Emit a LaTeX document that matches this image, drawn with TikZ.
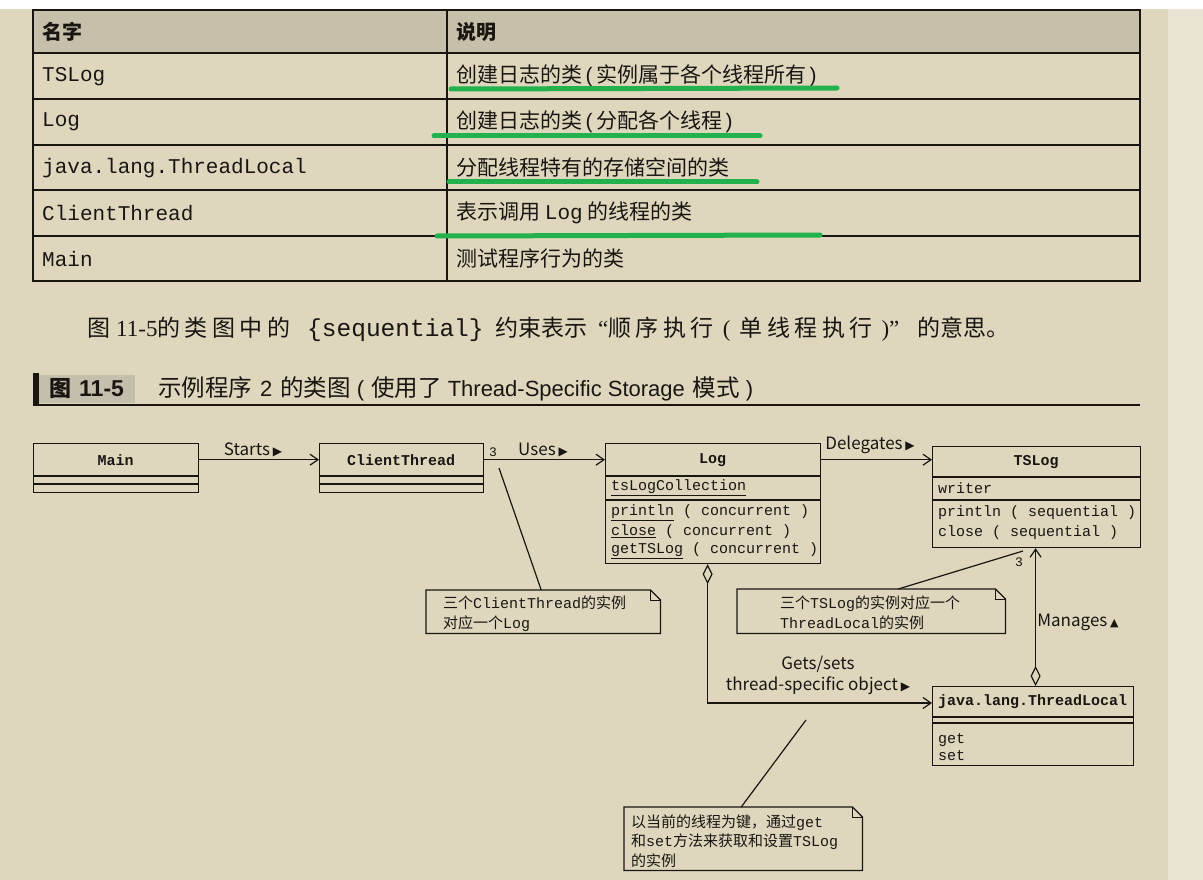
\documentclass[tikz,border=0pt]{standalone}
\usepackage{fontspec}
\usetikzlibrary{arrows.meta,calc}
\newfontfamily\cjk{Noto Sans CJK SC}
\newfontfamily\mono{Liberation Mono}
\newfontfamily\serifL{Liberation Serif}
\newfontfamily\sansL{Liberation Sans}
\newfontfamily\sym{DejaVu Sans}
\definecolor{pagebg}{RGB}{222,215,190}
\definecolor{edgebg}{RGB}{233,228,212}
\definecolor{headbg}{RGB}{198,191,170}
\definecolor{capbg}{RGB}{196,190,172}
\definecolor{marker}{RGB}{34,177,76}
\definecolor{ink}{RGB}{25,22,18}
\newcommand{\rtri}{\,{\sym\fontsize{12}{12}\selectfont ▶}}
\newcommand{\utri}{\,{\sym\fontsize{11}{11}\selectfont ▲}}
\newcommand{\gp}{\hspace{4.5pt}}
\begin{document}
\begin{tikzpicture}[x=1pt,y=-1pt,
  tabline/.style={draw=ink,line width=1.8pt},
  tabhead/.style={font=\cjk\bfseries\fontsize{20}{24}\selectfont,anchor=west,inner sep=0,text=ink},
  tabmono/.style={font=\mono\fontsize{21}{24}\selectfont,anchor=west,inner sep=0,text=ink},
  tabcjk/.style={font=\cjk\fontsize{21}{24}\selectfont,anchor=west,inner sep=0,text=ink},
  marked/.style={draw=marker,line width=5pt,line cap=round},
  para/.style={font=\cjk\fontsize{23}{26}\selectfont,anchor=base west,inner sep=0,text=ink},
  clsbox/.style={draw=ink,line width=1.2pt,inner sep=0,anchor=north west},
  clstitle/.style={font=\mono\bfseries\fontsize{15}{18}\selectfont,inner sep=0,anchor=north west,text=ink},
  member/.style={font=\mono\fontsize{15}{18}\selectfont,anchor=west,inner sep=0,text=ink,align=left},
  sep/.style={draw=ink,line width=1.2pt},
  lbl/.style={font=\cjk\fontsize{17}{21}\selectfont,inner sep=0,text=ink},
  mult/.style={font=\mono\fontsize{13}{15}\selectfont,inner sep=0,text=ink},
  assoc/.style={draw=ink,line width=1.2pt,-{Straight Barb[length=8pt,width=11pt]}},
  agg/.style={draw=ink,line width=1.2pt,{Diamond[open,length=20pt,width=10pt]}-{Straight Barb[length=8pt,width=11pt]}},
  noteline/.style={draw=ink,line width=1.2pt},
  notebox/.style={inner sep=0,anchor=north west},
  notetext/.style={font=\cjk\fontsize{15}{20}\selectfont,anchor=west,inner sep=0,align=left,text=ink}
]
\useasboundingbox (0,0) rectangle (1203,880);
% page
\fill[pagebg] (0,0) rectangle (1203,880);
\fill[white] (0,0) rectangle (1203,9);
\fill[edgebg] (1168,9) rectangle (1203,880);

% ---- table of participants ----
\fill[headbg] (33,10) rectangle (1140,53);
\draw[tabline] (33,10) rectangle (1140,281);
\foreach \yy in {53,99,145,190,236} \draw[tabline] (33,\yy) -- (1140,\yy);
\draw[tabline] (447,10) -- (447,281);
\node[tabhead] (h1) at (42,32) {名字};
\node[tabhead] (h2) at (456,32) {说明};
\node[tabmono] (r1a) at (42,77) {TSLog};
\node[tabmono] (r2a) at (42,122) {Log};
\node[tabmono] (r3a) at (42,168) {java.lang.ThreadLocal};
\node[tabmono] (r4a) at (42,213) {ClientThread};
\node[tabmono] (r5a) at (42,259) {Main};
\node[tabcjk] (r1b) at (456,76) {创建日志的类{\sansL\,(\,}实例属于各个线程所有{\sansL\,)}};
\node[tabcjk] (r2b) at (456,122) {创建日志的类{\sansL\,(\,}分配各个线程{\sansL\,)}};
\node[tabcjk] (r3b) at (456,167) {分配线程特有的存储空间的类};
\node[tabcjk] (r4b) at (456,213) {表示调用 {\mono Log} 的线程的类};
\node[tabcjk] (r5b) at (456,258) {测试程序行为的类};
% marker strokes
\draw[marked] (451,89) -- (837,88);
\draw[marked] (434,136) -- (760,136);
\draw[marked] (449,182) -- (757,182);
\draw[marked] (437,236) -- (820,235);

% ---- body text (justified line, set in pieces) ----
\node[para] (p1) at (87,336) {图};
\node[para,font=\serifL\fontsize{23}{26}\selectfont] (p2) at (116,336) {11-5};
\node[para] (p3) at (157,336) {的\gp 类\gp 图\gp 中\gp 的};
\node[para,font=\mono\fontsize{24.5}{26}\selectfont] (p4) at (307,336) {\{sequential\}};
\node[para] (p5) at (495,336) {约束表示};
\node[para] (p6) at (598,336)
  {{\serifL “}顺\gp 序\gp 执\gp 行{\serifL\hspace{9pt}(\hspace{9pt}}单\gp 线\gp 程\gp 执\gp 行{\serifL\hspace{9pt})”}};
\node[para] (p7) at (917,336) {的意思。};

% ---- figure caption ----
\fill[ink] (33,373) rectangle (39,405);
\fill[capbg] (39,375) rectangle (135,403);
\node[inner sep=0,anchor=west,text=ink,font=\cjk\bfseries\fontsize{22}{24}\selectfont] (capnum) at (49,389)
  {图\hspace{8pt}{\sansL\bfseries\fontsize{23}{24}\selectfont 11-5}};
\node[inner sep=0,anchor=west,text=ink,font=\cjk\fontsize{23.5}{26}\selectfont] (captxt) at (158,389)
  {示例程序\hspace{8pt}{\sansL\fontsize{22}{24}\selectfont 2}\hspace{8pt}的类图{\sansL\fontsize{22}{24}\selectfont\hspace{6pt}(\hspace{7pt}}使用了%
   {\sansL\fontsize{22}{24}\selectfont\hspace{6pt}Thread-Specific Storage\hspace{8pt}}模式{\sansL\fontsize{22}{24}\selectfont\hspace{6pt})}};
\draw[ink,line width=2.5pt] (33,405) -- (1140,405);

% ---- class diagram ----
% Main
\node[clsbox,minimum width=165pt,minimum height=49pt] (main) at (33,443) {};
\node[clstitle,minimum width=165pt,minimum height=33pt] (mainT) at (33,443) {Main};
\draw[sep] (33,476) -- (198,476) (33,484) -- (198,484);
% ClientThread
\node[clsbox,minimum width=164pt,minimum height=49pt] (ct) at (319,443) {};
\node[clstitle,minimum width=164pt,minimum height=33pt] (ctT) at (319,443) {ClientThread};
\draw[sep] (319,476) -- (483,476) (319,484) -- (483,484);
% Log
\node[clsbox,minimum width=215pt,minimum height=120pt] (log) at (605,443) {};
\node[clstitle,minimum width=215pt,minimum height=33pt] (logT) at (605,443) {Log};
\draw[sep] (605,476) -- (820,476) (605,500) -- (820,500);
\node[member] (logA) at (611,488) {\underline{tsLogCollection}};
\node[member] (logO1) at (611,513) {\underline{println} ( concurrent )};
\node[member] (logO2) at (611,532) {\underline{close} ( concurrent )};
\node[member] (logO3) at (611,551) {\underline{getTSLog} ( concurrent )};
% TSLog
\node[clsbox,minimum width=208pt,minimum height=101pt] (tslog) at (932,446) {};
\node[clstitle,minimum width=208pt,minimum height=31pt] (tslogT) at (932,446) {TSLog};
\draw[sep] (932,477) -- (1140,477) (932,500) -- (1140,500);
\node[member] (tsA) at (938,488) {writer};
\node[member] (tsO1) at (938,513) {println ( sequential )};
\node[member] (tsO2) at (938,533) {close ( sequential )};
% java.lang.ThreadLocal
\node[clsbox,minimum width=201pt,minimum height=79pt] (tl) at (932,686) {};
\node[clstitle,minimum width=201pt,minimum height=31pt] (tlT) at (932,686) {java.lang.ThreadLocal};
\draw[sep] (932,717) -- (1133,717) (932,723) -- (1133,723);
\node[member] (tlO1) at (938,740) {get};
\node[member] (tlO2) at (938,756) {set};

% associations
\draw[assoc] (mainT.east) -- (ctT.west);
\node[lbl] (lbStarts) at (253,450) {Starts\rtri};
\draw[assoc] (ctT.east) -- (logT.west);
\node[mult] (m1) at (493,452) {3};
\node[lbl] (lbUses) at (543,450) {Uses\rtri};
\draw[assoc] (logT.east) -- (logT.east -| tslog.west);
\node[lbl] (lbDel) at (870,445) {Delegates\rtri};
\draw[agg] ([xshift=-5.5pt]log.south) |- (tlT.west |- 0,703);
\node[lbl,align=center] (lbGets) at (818,675) {Gets/sets\\thread-specific object\rtri};
\draw[agg] ([xshift=2.5pt]tl.north) -- ([xshift=2.5pt]tl.north |- tslog.south);
\node[mult] (m2) at (1019,562) {3};
\node[lbl] (lbMan) at (1078,622) {Manages\utri};

% notes
\node[notebox,minimum width=234pt,minimum height=43pt] (n1) at (426,590) {};
\node[notebox,minimum width=268pt,minimum height=44pt] (n2) at (737,589) {};
\node[notebox,minimum width=238pt,minimum height=63pt] (n3) at (624,807) {};
\foreach \n in {n1,n2,n3}{
  \draw[noteline] (\n.north west) -- ([xshift=-10pt]\n.north east) -- ([yshift=-10pt]\n.north east)
    -- (\n.south east) -- (\n.south west) -- cycle;
  \draw[noteline,line width=0.9pt] ([xshift=-10pt]\n.north east) -- ([xshift=-10pt,yshift=-10pt]\n.north east)
    -- ([yshift=-10pt]\n.north east);
}
\node[notetext] (n1t) at (443,614) {三个{\mono ClientThread}的实例\\对应一个{\mono Log}};
\node[notetext] (n2t) at (780,613) {三个{\mono TSLog}的实例对应一个\\{\mono ThreadLocal}的实例};
\node[notetext,font=\cjk\fontsize{15}{19.5}\selectfont] (n3t) at (631,841)
  {以当前的线程为键，通过{\mono get}\\和{\mono set}方法来获取和设置{\mono TSLog}\\的实例};
\coordinate (ctm) at (499,468);
\coordinate (tsm) at (1023,551);
\coordinate (gsm) at (806,720);
\draw[noteline] ([xshift=-2pt]n1.north) -- (ctm);
\draw[noteline] ([xshift=27pt]n2.north) -- (tsm);
\draw[noteline] ([xshift=-2pt]n3.north) -- (gsm);
\end{tikzpicture}
\end{document}
